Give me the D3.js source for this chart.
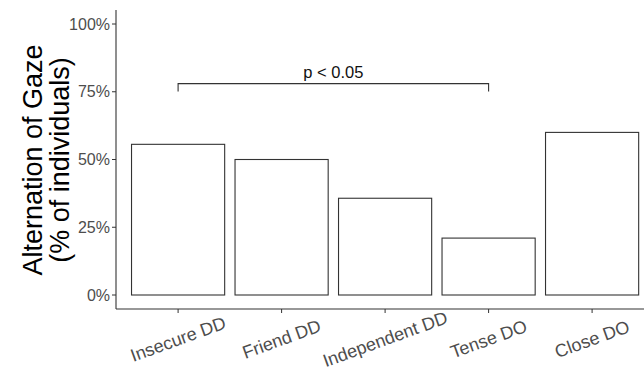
<!DOCTYPE html>
<html lang="en">
<head>
    <meta charset="UTF-8">
    <title>Alternation of Gaze</title>
    <style>
        body { margin: 0; background: #fff; font-family: "Liberation Sans", Arial, sans-serif; }
    </style>
</head>
<body>
    <div id="chart"></div>
    <script src="https://d3js.org/d3.v7.min.js"></script>
    <script>
        const categories = ["Insecure DD", "Friend DD", "Independent DD", "Tense DO", "Close DO"];
        const values = [0.556, 0.50, 0.357, 0.21, 0.60];
        const yTicks = [0, 0.25, 0.5, 0.75, 1];
        const bracket = {from: "Insecure DD", to: "Tense DO", y: 0.78, label: "p < 0.05"};

        const W = 644, H = 370;
        const margin = {top: 24, left: 116, bottom: 75};
        const plotBottom = 295;

        const svg = d3.select("#chart").append("svg")
            .attr("width", W).attr("height", H);

        // x scale: ggplot-style discrete with 0.6 expansion
        const step = 103.5;
        const x = d3.scaleBand()
            .domain(categories)
            .range([margin.left + 0.6 * step - step / 2, margin.left + 0.6 * step - step / 2 + step * categories.length])
            .paddingInner(0.1).paddingOuter(0.05);

        const y = d3.scaleLinear().domain([0, 1]).range([plotBottom, margin.top]);

        // bars
        svg.selectAll("rect.bar")
            .data(values)
            .enter().append("rect")
            .attr("class", "bar")
            .attr("x", (d, i) => x(categories[i]))
            .attr("y", d => y(d))
            .attr("width", x.bandwidth())
            .attr("height", d => y(0) - y(d))
            .attr("fill", "#fff")
            .attr("stroke", "#333")
            .attr("stroke-width", 1.1);

        // axes lines
        const axisY = 309;
        svg.append("line").attr("x1", margin.left).attr("x2", margin.left)
            .attr("y1", 10).attr("y2", axisY).attr("stroke", "#333").attr("stroke-width", 1.1);
        svg.append("line").attr("x1", margin.left).attr("x2", W)
            .attr("y1", axisY).attr("y2", axisY).attr("stroke", "#333").attr("stroke-width", 1.1);

        // y ticks
        const yAxis = svg.append("g");
        yTicks.forEach(t => {
            yAxis.append("line").attr("x1", margin.left - 4).attr("x2", margin.left)
                .attr("y1", y(t)).attr("y2", y(t)).attr("stroke", "#333");
            yAxis.append("text").attr("x", margin.left - 6).attr("y", y(t))
                .attr("dy", "0.35em").attr("text-anchor", "end")
                .attr("font-size", 16).attr("fill", "#4d4d4d")
                .text(d3.format(".0%")(t));
        });

        // x ticks + rotated labels
        categories.forEach(c => {
            const cx = x(c) + x.bandwidth() / 2;
            svg.append("line").attr("x1", cx).attr("x2", cx)
                .attr("y1", axisY).attr("y2", axisY + 4).attr("stroke", "#333");
            svg.append("text")
                .attr("transform", `translate(${cx},${axisY + 30}) rotate(-20)`)
                .attr("text-anchor", "middle").attr("dy", "0.35em")
                .attr("font-size", 18).attr("fill", "#4d4d4d")
                .text(c);
        });

        // significance bracket
        const bx1 = x(bracket.from) + x.bandwidth() / 2;
        const bx2 = x(bracket.to) + x.bandwidth() / 2;
        const by = y(bracket.y);
        svg.append("path")
            .attr("d", `M${bx1},${by + 8}V${by}H${bx2}V${by + 8}`)
            .attr("fill", "none").attr("stroke", "#333").attr("stroke-width", 1.1);
        svg.append("text")
            .attr("x", (bx1 + bx2) / 2).attr("y", by - 6)
            .attr("text-anchor", "middle").attr("font-size", 16.5).attr("fill", "#111")
            .text(bracket.label);

        // y title
        const title = svg.append("text")
            .attr("transform", `translate(33,160) rotate(-90)`)
            .attr("text-anchor", "middle").attr("font-size", 27).attr("fill", "#000");
        title.append("tspan").attr("x", 0).attr("dy", "0.35em").text("Alternation of Gaze");
        title.append("tspan").attr("x", 0).attr("dy", "1.0em").text("(% of individuals)");
    </script>
</body>
</html>
